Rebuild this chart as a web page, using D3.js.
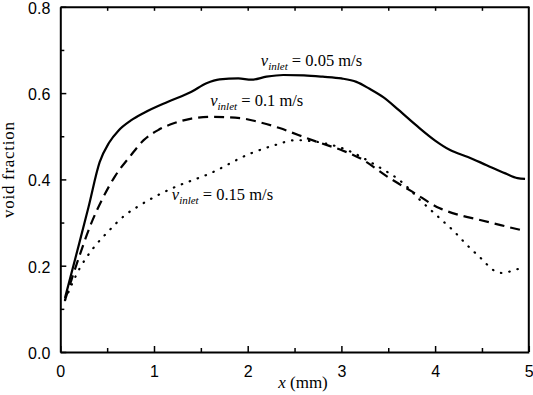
<!DOCTYPE html>
<html>
<head>
<meta charset="utf-8">
<script src="https://cdn.jsdelivr.net/npm/d3@7"></script>
<style>
  body { margin: 0; background: #fff; }
  .tick text { font-family: Arial, "Liberation Sans", sans-serif; font-size: 16px; fill: #000; }
  .serif { font-family: "Liberation Serif", serif; fill: #000; }
</style>
</head>
<body>
<svg width="533" height="395"></svg>
<script>
// data: x in mm, void fraction
const xSolid = [0.05, 0.2, 0.3, 0.42, 0.52, 0.62, 0.75, 0.9, 1.15, 1.4, 1.56, 1.7, 1.9, 2.04, 2.2, 2.38, 2.6, 2.8, 3.0, 3.16, 3.3, 3.45, 3.61, 3.8, 4.0, 4.16, 4.35, 4.55, 4.75, 4.88, 4.96];
const ySolid = [0.125, 0.25, 0.335, 0.44, 0.485, 0.513, 0.536, 0.555, 0.58, 0.603, 0.623, 0.632, 0.634, 0.631, 0.638, 0.642, 0.641, 0.638, 0.634, 0.626, 0.61, 0.59, 0.561, 0.525, 0.49, 0.468, 0.452, 0.433, 0.414, 0.403, 0.401];

const xDash = [0.05, 0.2, 0.33, 0.45, 0.58, 0.75, 0.89, 1.05, 1.21, 1.4, 1.6, 1.92, 2.1, 2.34, 2.54, 2.74, 3.0, 3.2, 3.5, 3.76, 4.05, 4.3, 4.48, 4.7, 4.91];
const yDash = [0.12, 0.22, 0.298, 0.355, 0.406, 0.455, 0.491, 0.515, 0.53, 0.541, 0.545, 0.542, 0.534, 0.519, 0.503, 0.487, 0.468, 0.449, 0.405, 0.371, 0.333, 0.315, 0.306, 0.294, 0.283];

const xDot = [0.05, 0.21, 0.35, 0.51, 0.69, 0.85, 1.01, 1.2, 1.6, 2.03, 2.3, 2.51, 2.74, 3.06, 3.35, 3.66, 3.85, 4.05, 4.2, 4.34, 4.5, 4.62, 4.72, 4.82, 4.92];
const yDot = [0.12, 0.195, 0.24, 0.279, 0.317, 0.34, 0.36, 0.38, 0.414, 0.46, 0.48, 0.491, 0.487, 0.468, 0.435, 0.391, 0.35, 0.31, 0.28, 0.248, 0.215, 0.19, 0.183, 0.188, 0.195];

const xTicks = [0, 1, 2, 3, 4, 5];
const yTicks = [0.0, 0.2, 0.4, 0.6, 0.8];

const svg = d3.select('svg');
const mLeft = 60.3, mRight = 528.8, mTop = 6.8, mBottom = 352;

const x = d3.scaleLinear().domain([0, 5]).range([mLeft, mRight]);
const y = d3.scaleLinear().domain([0, 0.8]).range([mBottom, mTop]);

const line = d3.line()
  .x(d => x(d[0]))
  .y(d => y(d[1]))
  .curve(d3.curveMonotoneX);

// curves
const series = [
  { xs: xSolid, ys: ySolid, dash: null, cap: 'butt' },
  { xs: xDash, ys: yDash, dash: '10,6', cap: 'butt' },
  { xs: xDot, ys: yDot, dash: '0.5,8', cap: 'round' }
];
series.forEach(s => {
  svg.append('path')
    .datum(s.xs.map((v, i) => [v, s.ys[i]]))
    .attr('d', line)
    .attr('fill', 'none')
    .attr('stroke', '#000')
    .attr('stroke-width', 2.2)
    .attr('stroke-linecap', s.cap)
    .attr('stroke-dasharray', s.dash);
});

// bottom axis, ticks pointing in
const xAxis = d3.axisBottom(x).tickValues(xTicks).tickFormat(d3.format('d'))
  .tickSizeInner(-6).tickSizeOuter(0).tickPadding(14);
svg.append('g').attr('transform', `translate(0,${mBottom})`).call(xAxis);
// minor x ticks
svg.append('g').attr('transform', `translate(0,${mBottom})`)
  .call(d3.axisBottom(x).tickValues([0.5, 1.5, 2.5, 3.5, 4.5]).tickFormat('').tickSizeInner(-4).tickSizeOuter(0))
  .select('.domain').remove();

// left axis
const yAxis = d3.axisLeft(y).tickValues(yTicks).tickFormat(d3.format('.1f'))
  .tickSizeInner(-6).tickSizeOuter(0).tickPadding(10);
const gy = svg.append('g').attr('transform', `translate(${mLeft},0)`).call(yAxis);
gy.selectAll('.tick text').attr('dy', '0.4em');
svg.append('g').attr('transform', `translate(${mLeft},0)`)
  .call(d3.axisLeft(y).tickValues([0.1, 0.3, 0.5, 0.7]).tickFormat('').tickSizeInner(-4).tickSizeOuter(0))
  .select('.domain').remove();

// top axis, short ticks
svg.append('g').attr('transform', `translate(0,${mTop})`)
  .call(d3.axisTop(x).tickValues(d3.range(0.5, 5, 0.5)).tickFormat('').tickSizeInner(-4).tickSizeOuter(0));

// right edge
svg.append('line')
  .attr('x1', mRight).attr('x2', mRight).attr('y1', mTop).attr('y2', mBottom)
  .attr('stroke', '#000').attr('stroke-width', 2);

svg.selectAll('.domain').attr('stroke-width', 2);
svg.selectAll('.tick line').attr('stroke-width', 1.5);

// axis titles
svg.append('text')
  .attr('class', 'serif')
  .attr('transform', 'translate(14,170) rotate(-90)')
  .attr('text-anchor', 'middle')
  .attr('textLength', 96)
  .attr('lengthAdjust', 'spacing')
  .style('font-size', '17px')
  .text('void fraction');

const xt = svg.append('text')
  .attr('class', 'serif')
  .attr('x', 303)
  .attr('y', 388)
  .attr('text-anchor', 'middle')
  .style('font-size', '17px');
xt.append('tspan').style('font-style', 'italic').text('x');
xt.append('tspan').text(' (mm)');

// curve labels
const labels = [
  { v: '0.05', px: 2.14, py: 0.663 },
  { v: '0.1', px: 1.6, py: 0.570 },
  { v: '0.15', px: 1.19, py: 0.352 }
];
labels.forEach(l => {
  const t = svg.append('text').attr('class', 'serif')
    .attr('x', x(l.px)).attr('y', y(l.py))
    .style('font-size', '16.5px');
  t.append('tspan').style('font-style', 'italic').text('v');
  t.append('tspan').style('font-style', 'italic').style('font-size', '11px').attr('dy', 4).text('inlet');
  t.append('tspan').attr('dy', -4).text(` = ${l.v} m/s`);
});
</script>
</body>
</html>
